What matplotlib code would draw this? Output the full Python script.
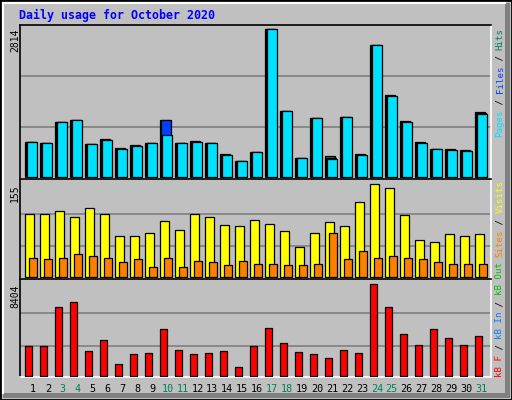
import matplotlib
matplotlib.use("Agg")
import matplotlib.pyplot as plt
from matplotlib.patches import Rectangle

days = list(range(1, 32))
weekend = [3, 4, 10, 11, 17, 18, 24, 25, 31]
hits = [655, 636, 1037, 1075, 617, 713, 541, 598, 636, 1075, 636, 674, 636, 426, 293, 465,
        2814, 1247, 350, 1114, 388, 1133, 426, 2507, 1553, 1056, 655, 522, 522, 503, 1228]
files = [655, 636, 1037, 1075, 617, 705, 535, 590, 636, 1075, 636, 665, 636, 420, 293, 465,
         2814, 1247, 350, 1114, 350, 1133, 420, 2507, 1540, 1040, 640, 522, 515, 495, 1210]
pages = [655, 636, 1037, 1075, 617, 705, 535, 585, 636, 789, 636, 660, 636, 415, 293, 465,
         2814, 1247, 350, 1114, 331, 1133, 415, 2507, 1535, 1035, 635, 522, 510, 490, 1205]
visits = [106, 105, 110, 100, 116, 105, 69, 69, 73, 93, 78, 105, 100, 86, 85, 95,
          88, 76, 49, 74, 91, 85, 126, 155, 148, 103, 61, 59, 71, 68, 71]
sites = [32, 29, 31, 38, 34, 31, 24, 29, 16, 31, 17, 26, 24, 19, 26, 21,
         21, 19, 19, 21, 74, 29, 43, 32, 34, 32, 29, 24, 21, 21, 21]
kbytes = [2699, 2699, 6287, 6747, 2239, 3251, 1043, 1963, 2055, 4263, 2331, 1963, 2055, 2239, 767, 2699,
          4355, 2975, 2147, 1963, 1595, 2331, 2055, 8404, 6287, 3803, 2791, 4263, 3435, 2791, 3619]

W, H = 512, 400
fig = plt.figure(figsize=(W / 100, H / 100), dpi=100)
fig.patch.set_facecolor("#C0C0C0")

bg = fig.add_axes([0, 0, 1, 1], zorder=0)
bg.set_xlim(0, W); bg.set_ylim(H, 0); bg.axis("off")
bg.add_patch(Rectangle((0, 0), W, H, facecolor="#C0C0C0", edgecolor="black", lw=2))
bg.add_patch(Rectangle((W - 7, 3), 5, H - 5, facecolor="#808080", edgecolor="none"))
bg.add_patch(Rectangle((3, H - 7), W - 5, 5, facecolor="#808080", edgecolor="none"))
bg.plot([3, W - 7], [3, 3], color="white", lw=1.5)
bg.plot([3, 3], [3, H - 7], color="white", lw=1.5)

mono = "DejaVu Sans Mono"
bg.text(19, 15, "Daily usage for October 2020", color="#0000FF", fontsize=8.4,
        fontweight="bold", family=mono, va="center", ha="left")

XLO, XHI = 1 - 13 / 15, 1 + 458 / 15

def panel(y0, y1, ylo, yhi, grids):
    ax = fig.add_axes([20 / W, 1 - y1 / H, 471 / W, (y1 - y0) / H], zorder=2)
    ax.set_facecolor("#C0C0C0")
    ax.set_xlim(XLO, XHI); ax.set_ylim(ylo, yhi)
    ax.set_xticks([]); ax.set_yticks([])
    for s in ax.spines.values():
        s.set_linewidth(1.2)
    ax.spines["top"].set_color("black"); ax.spines["left"].set_color("black")
    ax.spines["bottom"].set_color("white"); ax.spines["right"].set_color("white")
    for g in grids:
        ax.axhline(g, color="#808080", lw=1.2, zorder=1)
    return ax

ax1 = panel(25, 179, -44, 2896, [1922, 945])
ax2 = panel(179, 279, -3.9, 163.9, [106, 51])
ax3 = panel(279, 377, -120, 8892, [5741, 2732])

kw = dict(align="edge", edgecolor="black", linewidth=0.9, zorder=3)
ax1.bar([d - 0.53 for d in days], hits, width=0.64, color="#00805C", **kw)
ax1.bar([d - 0.47 for d in days], files, width=0.64, color="#0040FF", **kw)
ax1.bar([d - 0.42 for d in days], pages, width=0.67, color="#00E0FF", **kw)
ax2.bar([d - 0.51 for d in days], visits, width=0.56, color="#FFFF00", **kw)
ax2.bar([d - 0.25 for d in days], sites, width=0.49, color="#FF8000", **kw)
ax3.bar([d - 0.51 for d in days], kbytes, width=0.47, color="#FF0000", **kw)

for d in days:
    x = 33 + 14.95 * (d - 1)
    bg.text(x, 389, str(d), ha="center", va="center", fontsize=7.3, family=mono,
            color="#00805C" if d in weekend else "black")

for y, lab in [(29, "2814"), (184, "155"), (284, "8404")]:
    bg.text(15, y, lab, rotation=90, ha="center", va="top", fontsize=7, family=mono)

def vtext(x, ybottom, segs):
    y = ybottom
    for s, c in segs:
        bg.text(x, y, s, rotation=90, ha="center", va="bottom", fontsize=6.6,
                family=mono, color=c)
        y -= 5.45 * len(s)

vtext(500, 137, [("Pages", "#00E0FF"), (" / ", "black"), ("Files", "#0040FF"),
                 (" / ", "black"), ("Hits", "#00805C")])
vtext(500, 377, [("kB F", "#FF0000"), (" / ", "black"), ("kB In", "#0080FF"),
                 (" / ", "black"), ("kB Out", "#00C000"), (" ", "black"),
                 ("Sites", "#FF8000"), (" / ", "black"), ("Visits", "#FFFF00")])

fig.savefig("out.png", dpi=100, facecolor=fig.get_facecolor())
